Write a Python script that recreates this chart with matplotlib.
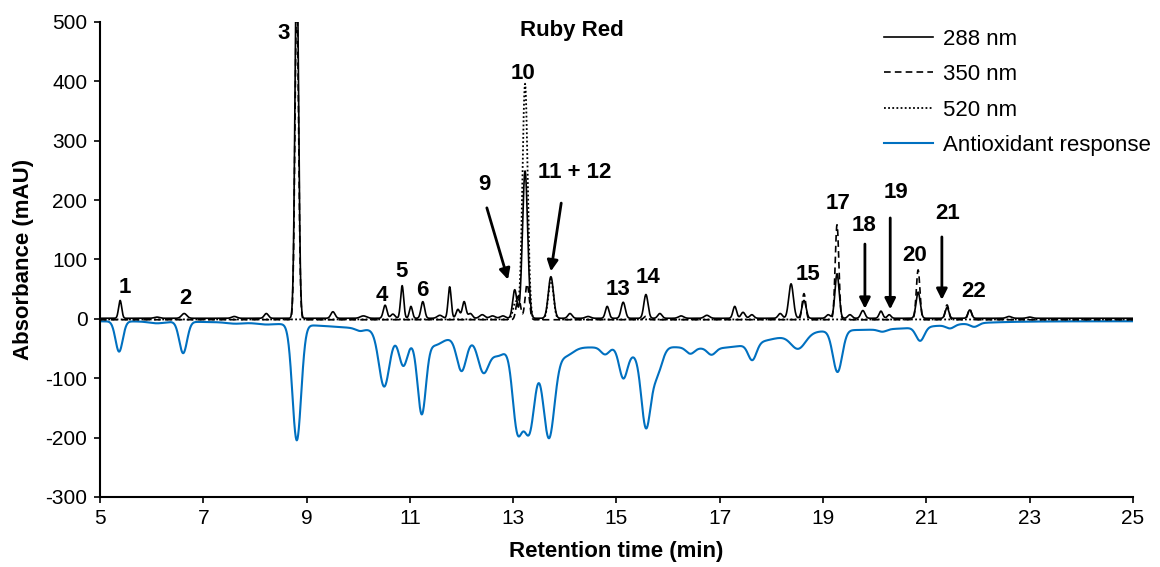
import numpy as np
import matplotlib
matplotlib.use("Agg")
import matplotlib.pyplot as plt
from matplotlib.lines import Line2D

plt.rcParams["font.family"] = ["Liberation Sans", "DejaVu Sans"]
plt.rcParams["axes.unicode_minus"] = False

# peak tables: retention time (min), height (mAU), width (sigma, min)
uv288_t = [5.39, 6.10, 6.63, 7.60, 8.22, 8.81, 9.51, 10.10, 10.52, 10.67, 10.85, 11.02, 11.25,
           11.58, 11.77, 11.93, 12.05, 12.17, 12.40, 12.60, 12.80, 13.03, 13.23, 13.73, 14.10,
           14.45, 14.82, 15.13, 15.57, 15.84, 16.25, 16.75, 17.29, 17.45, 17.62, 18.17, 18.38,
           18.63, 19.10, 19.27, 19.52, 19.77, 20.12, 20.28, 20.84, 21.40, 21.84, 22.60, 23.00]
uv288_h = [30, 2, 8, 3, 8, 620, 11, 4, 22, 7, 55, 20, 28,
           5, 53, 15, 28, 8, 6, 4, 4, 48, 248, 70, 8,
           3, 20, 27, 40, 8, 4, 5, 20, 10, 6, 8, 58,
           30, 6, 75, 6, 13, 12, 6, 44, 18, 14, 3, 2]
uv288_w = [0.03, 0.05, 0.05, 0.05, 0.04, 0.035, 0.04, 0.06, 0.035, 0.04, 0.03, 0.03, 0.035,
           0.05, 0.03, 0.035, 0.035, 0.04, 0.05, 0.05, 0.05, 0.04, 0.05, 0.05, 0.04,
           0.05, 0.035, 0.04, 0.04, 0.04, 0.05, 0.05, 0.035, 0.04, 0.04, 0.04, 0.045,
           0.04, 0.04, 0.04, 0.04, 0.04, 0.035, 0.035, 0.04, 0.035, 0.035, 0.05, 0.05]

uv350_t = [8.81, 13.10, 13.27, 15.57, 18.63, 19.27, 20.84, 21.40, 21.84]
uv350_h = [540, 40, 60, 6, 44, 160, 84, 25, 18]
uv350_w = [0.035, 0.04, 0.04, 0.04, 0.035, 0.035, 0.035, 0.035, 0.035]

vis520_t = [13.05, 13.23, 13.73]
vis520_h = [30, 397, 68]
vis520_w = [0.05, 0.05, 0.05]

# antioxidant response (negative dips), same layout
aox_t = [14.5, 17.2, 20.3, 11.1,
         5.37, 6.10, 6.61, 7.61, 8.20, 8.81, 10.03, 10.50, 10.87, 11.23, 11.50,
         12.00, 12.42, 12.70, 13.07, 13.20, 13.33, 13.69, 14.00, 14.78, 15.13,
         15.33, 15.57, 15.78, 16.43, 16.84, 17.63, 18.52, 19.28, 20.15, 20.88,
         21.46, 21.93]
aox_d = [44, 16, 8, 14,
         51, 3, 53, 2, 2, 195, 4, 91, 45, 121, 8,
         54, 50, 22, 110, 60, 110, 153, 15, 12, 50,
         12, 131, 45, 10, 11, 28, 25, 70, 4, 23,
         6, 6]
aox_w = [2.8, 0.8, 1.0, 0.35,
         0.07, 0.15, 0.075, 0.15, 0.15, 0.085, 0.08, 0.1, 0.08, 0.08, 0.12,
         0.09, 0.1, 0.15, 0.09, 0.12, 0.1, 0.11, 0.15, 0.08, 0.08,
         0.12, 0.09, 0.1, 0.08, 0.08, 0.08, 0.14, 0.09, 0.08, 0.08,
         0.08, 0.08]

labels = ["1", "2", "3", "4", "5", "6", "10", "13", "14", "15", "17", "20", "22"]
label_x = [5.48, 6.65, 8.56, 10.46, 10.83, 11.25, 13.19, 15.03, 15.61, 18.71, 19.29, 20.78, 21.92]
label_y = [52, 34, 480, 40, 79, 47, 414, 50, 69, 74, 194, 106, 46]

arrow_labels = ["9", "11 + 12", "18", "19", "21"]
arrow_lab_x = [12.45, 14.2, 19.79, 20.41, 21.42]
arrow_lab_y = [227, 246, 158, 213, 178]
arrow_from_x = [12.49, 13.93, 19.81, 20.30, 21.30]
arrow_from_y = [187, 195, 126, 170, 138]
arrow_to_x = [12.90, 13.73, 19.81, 20.30, 21.30]
arrow_to_y = [66, 80, 17, 16, 32]


def trace(t, pos, height, width, base):
    y = np.full_like(t, base)
    for p, h, w in zip(pos, height, width):
        y += h * np.exp(-0.5 * ((t - p) / w) ** 2)
    return y


t = np.linspace(5, 25, 6001)
y288 = trace(t, uv288_t, uv288_h, uv288_w, 1.0)
y350 = trace(t, uv350_t, uv350_h, uv350_w, -1.5)
y520 = trace(t, vis520_t, vis520_h, vis520_w, -1.0)
yaox = -trace(t, aox_t, aox_d, aox_w, 4.0)

fs = 16

fig = plt.figure(figsize=(11.6, 5.67), dpi=100)
ax = fig.add_axes([0.0862, 0.1235, 0.8905, 0.8377])

ax.plot(t, yaox, color="#0070C0", lw=1.5)
ax.plot(t, y520, color="black", lw=1.3, linestyle=(0, (1, 1.3)))
ax.plot(t, y350, color="black", lw=1.2, linestyle=(0, (4, 2.5)))
ax.plot(t, y288, color="black", lw=1.2)

ax.set_xlim(5, 25)
ax.set_ylim(-300, 500)
ax.set_xticks(np.arange(5, 26, 2))
ax.set_yticks(np.arange(-300, 501, 100))
ax.tick_params(direction="out", length=4, width=1.2, labelsize=15, colors="black", pad=5)
for s in ["top", "right"]:
    ax.spines[s].set_visible(False)
for s in ["left", "bottom"]:
    ax.spines[s].set_linewidth(1.5)

ax.set_xlabel("Retention time (min)", fontsize=fs, fontweight="bold", labelpad=9)
ax.set_ylabel("Absorbance (mAU)", fontsize=fs, fontweight="bold", labelpad=8)

ax.text(14.14, 485, "Ruby Red", fontsize=fs, fontweight="bold", ha="center", va="center")

for s, x, y in zip(labels, label_x, label_y):
    ax.text(x, y, s, fontsize=fs, fontweight="bold", ha="center", va="center")

for s, lx, ly, fx, fy, tx, ty in zip(arrow_labels, arrow_lab_x, arrow_lab_y,
                                     arrow_from_x, arrow_from_y, arrow_to_x, arrow_to_y):
    ax.text(lx, ly, s, fontsize=fs, fontweight="bold", ha="center", va="center")
    ax.annotate("", xy=(tx, ty), xytext=(fx, fy),
                arrowprops=dict(arrowstyle="-|>", color="black", lw=2, mutation_scale=16,
                                shrinkA=0, shrinkB=0))

handles = [Line2D([], [], color="black", lw=1.2),
           Line2D([], [], color="black", lw=1.2, linestyle=(0, (4, 2.5))),
           Line2D([], [], color="black", lw=1.3, linestyle=(0, (1, 1.3))),
           Line2D([], [], color="#0070C0", lw=1.5)]
fig.legend(handles, ["288 nm", "350 nm", "520 nm", "Antioxidant response"],
           loc="upper left", bbox_to_anchor=(0.758, 0.957), frameon=False,
           fontsize=fs, handlelength=2.2, labelspacing=0.65, handletextpad=0.45,
           borderaxespad=0, borderpad=0.2)

fig.savefig("out.png", dpi=100)
